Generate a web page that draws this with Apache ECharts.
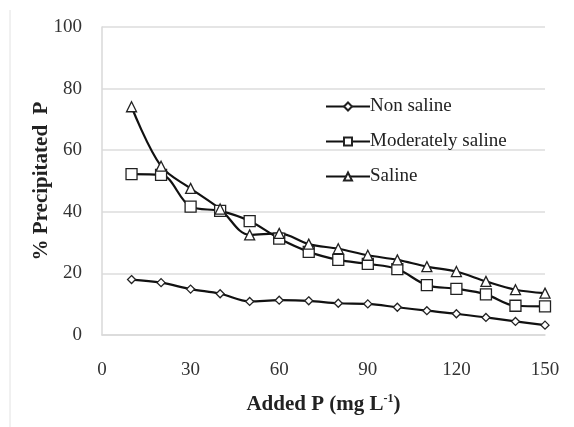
<!DOCTYPE html>
<html>
<head>
<meta charset="utf-8">
<script src="https://cdn.jsdelivr.net/npm/echarts@6/dist/echarts.min.js"></script>
<style>
	html, body { margin: 0; padding: 0; background: #fff; }
	#chart { width: 574px; height: 427px; }
</style>
</head>
<body>
<div id="chart"></div>
<script>
var addedP = [10, 20, 30, 40, 50, 60, 70, 80, 90, 100, 110, 120, 130, 140, 150];
var nonSaline = [18.0, 17.0, 14.9, 13.4, 10.9, 11.3, 11.1, 10.3, 10.1, 9.0, 7.9, 6.9, 5.7, 4.4, 3.2];
var moderatelySaline = [52.2, 52.0, 41.7, 40.3, 37.0, 31.3, 27.0, 24.4, 23.1, 21.4, 16.2, 15.0, 13.2, 9.5, 9.3];
var saline = [74.1, 54.8, 47.6, 40.9, 32.5, 33.0, 29.5, 28.0, 25.9, 24.4, 22.2, 20.6, 17.4, 14.7, 13.6];
var xTicks = [0, 30, 60, 90, 120, 150];
var yTicks = [0, 20, 40, 60, 80, 100];

var serif = '"Liberation Serif", "DejaVu Serif", serif';

function pairs(vals) {
	return addedP.map(function (x, i) { return [x, vals[i]]; });
}

function makeSeries(name, vals, symbol, size) {
	return {
		name: name,
		type: 'line',
		data: pairs(vals),
		smooth: 0.35,
		symbol: symbol,
		symbolSize: size,
		lineStyle: { color: '#111', width: 2.2 },
		itemStyle: { color: '#fff', borderColor: '#222', borderWidth: 1.3 },
		emphasis: { disabled: true }
	};
}

var myChart = echarts.init(document.getElementById('chart'), null, { renderer: 'canvas' });
var option = {
	backgroundColor: '#fff',
	animation: false,
	textStyle: { fontFamily: serif },
	graphic: [
		{
			type: 'line',
			shape: { x1: 10, y1: 10, x2: 10, y2: 427 },
			style: { stroke: '#e2e2e2', lineWidth: 1 }
		}
	],
	legend: {
		orient: 'vertical',
		left: 320,
		top: 92,
		itemWidth: 44,
		itemHeight: 10,
		itemGap: 16,
		data: ['Non saline', 'Moderately saline', 'Saline'],
		textStyle: { fontFamily: serif, fontSize: 19, color: '#222', padding: [0, 0, 0, -5] }
	},
	grid: { left: 102, right: 29, top: 27, bottom: 92 },
	xAxis: {
		type: 'value',
		min: xTicks[0],
		max: xTicks[xTicks.length - 1],
		interval: 30,
		name: '{b|Added P (mg L}{s|-1}{b|)}',
		nameLocation: 'middle',
		nameGap: 58,
		nameTextStyle: {
			rich: {
				b: { fontFamily: serif, fontSize: 21, fontWeight: 'bold', color: '#222' },
				s: { fontFamily: serif, fontSize: 12, fontWeight: 'bold', color: '#222', verticalAlign: 'top', padding: [0, 0, 12, 0] }
			}
		},
		axisLine: { show: true, lineStyle: { color: '#d9d9d9', width: 1.5 } },
		axisTick: { show: false },
		splitLine: { show: false },
		axisLabel: { fontFamily: serif, fontSize: 19, color: '#333', margin: 26 }
	},
	yAxis: {
		type: 'value',
		min: yTicks[0],
		max: yTicks[yTicks.length - 1],
		interval: 20,
		name: '% Precipitated  P',
		nameLocation: 'middle',
		nameGap: 50,
		nameMoveOverlap: false,
		nameTextStyle: { fontFamily: serif, fontSize: 21, fontWeight: 'bold', color: '#222' },
		axisLine: { show: true, lineStyle: { color: '#d9d9d9', width: 1.5 } },
		axisTick: { show: false },
		splitLine: { show: true, lineStyle: { color: '#dcdcdc', width: 1.5 } },
		axisLabel: { fontFamily: serif, fontSize: 19, color: '#333', margin: 20 }
	},
	series: [
		makeSeries('Non saline', nonSaline, 'diamond', 8),
		makeSeries('Moderately saline', moderatelySaline, 'rect', 11),
		makeSeries('Saline', saline, 'triangle', 10)
	]
};

option && myChart.setOption(option);
</script>
</body>
</html>
